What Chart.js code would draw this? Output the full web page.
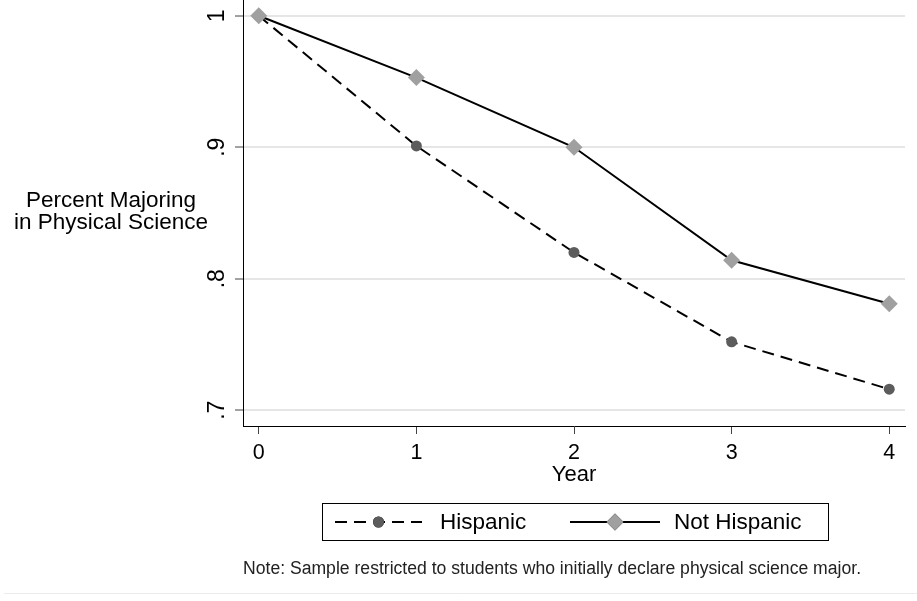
<!DOCTYPE html>
<html>
<head>
<meta charset="utf-8">
<script src="https://cdn.jsdelivr.net/npm/chart.js@4.4.0/dist/chart.umd.min.js"></script>
<style>
  html, body { margin: 0; padding: 0; background: #ffffff; }
  canvas { display: block; }
</style>
</head>
<body>
<canvas id="chart_major" width="917" height="601"></canvas>
<script>
/* ------------------
  data
-------------------*/
var years = [0, 1, 2, 3, 4];
var yearLabels = ['0', '1', '2', '3', '4'];
var hispanic = [1.0, 0.901, 0.820, 0.752, 0.716];
var notHispanic = [1.0, 0.953, 0.900, 0.814, 0.781];
var yTickValues = [0.7, 0.8, 0.9, 1.0];
var yTickLabels = ['.7', '.8', '.9', '1'];
var seriesNames = ['Hispanic', 'Not Hispanic'];
var yTitleLines = ['Percent Majoring', 'in Physical Science'];
var xTitle = 'Year';
var noteText = 'Note: Sample restricted to students who initially declare physical science major.';

var FONT = "'Liberation Sans', Arial, sans-serif";

function toPoints(ys) {
    return years.map(function (x, i) { return { x: x, y: ys[i] }; });
}

/* ------------------
  extra drawing: y title, legend box, note
-------------------*/
var stataExtras = {
    id: 'stataExtras',
    afterDraw: function (chart) {
        var ctx = chart.ctx;
        ctx.save();

        // y axis title, horizontal, two lines
        ctx.fillStyle = '#000';
        ctx.font = '22.5px ' + FONT;
        ctx.textAlign = 'center';
        ctx.textBaseline = 'alphabetic';
        ctx.fillText(yTitleLines[0], 111, 207);
        ctx.fillText(yTitleLines[1], 111, 229);

        // legend box
        var bx = 322, by = 503, bw = 506, bh = 37;
        ctx.strokeStyle = '#000';
        ctx.lineWidth = 1;
        ctx.strokeRect(bx + 0.5, by + 0.5, bw, bh);

        var cy = by + bh / 2 + 0.5;
        var items = [
            { x0: 335, x1: 422, tx: 440 },
            { x0: 570, x1: 660, tx: 674 }
        ];
        chart.data.datasets.forEach(function (ds, i) {
            var it = items[i];
            ctx.strokeStyle = ds.borderColor;
            ctx.lineWidth = ds.borderWidth;
            ctx.setLineDash(ds.borderDash || []);
            ctx.beginPath();
            ctx.moveTo(it.x0, cy);
            ctx.lineTo(it.x1, cy);
            ctx.stroke();
            ctx.setLineDash([]);
            Chart.helpers.drawPoint(ctx, {
                pointStyle: ds.pointStyle,
                radius: ds.pointRadius,
                borderWidth: 0,
                rotation: 0
            }, (it.x0 + it.x1) / 2, cy);
            ctx.fillStyle = ds.pointBackgroundColor;
            ctx.fill();
            ctx.fillStyle = '#000';
            ctx.font = '22.5px ' + FONT;
            ctx.textAlign = 'left';
            ctx.textBaseline = 'middle';
            ctx.fillText(ds.label, it.tx, cy + 1);
        });

        // note
        ctx.fillStyle = '#222';
        ctx.font = '17.6px ' + FONT;
        ctx.textAlign = 'left';
        ctx.textBaseline = 'alphabetic';
        ctx.fillText(noteText, chart.chartArea.left, 574);

        // faint frame line at the bottom
        ctx.strokeStyle = '#ebebeb';
        ctx.lineWidth = 1;
        ctx.beginPath();
        ctx.moveTo(4, 593.5);
        ctx.lineTo(917, 593.5);
        ctx.stroke();

        ctx.restore();
    }
};

/* ------------------
  line chart
-------------------*/
new Chart(document.getElementById('chart_major'), {
    type: 'line',
    data: {
        datasets: [
            {
                label: seriesNames[0],
                data: toPoints(hispanic),
                borderColor: '#000000',
                borderWidth: 2,
                borderDash: [12, 7],
                pointStyle: 'circle',
                pointRadius: 5.5,
                pointBorderWidth: 0,
                pointBackgroundColor: '#5c5c5c',
                fill: false,
                tension: 0,
                order: 1
            },
            {
                label: seriesNames[1],
                data: toPoints(notHispanic),
                borderColor: '#000000',
                borderWidth: 2,
                pointStyle: 'rectRot',
                pointRadius: 8.5,
                pointBorderWidth: 0,
                pointBackgroundColor: '#a0a0a0',
                fill: false,
                tension: 0,
                order: 0
            }
        ]
    },
    options: {
        responsive: false,
        animation: false,
        layout: {
            autoPadding: false,
            padding: { left: 0, right: 12, top: 0, bottom: 110 }
        },
        plugins: {
            legend: { display: false },
            tooltip: { enabled: false },
            title: { display: false }
        },
        scales: {
            x: {
                type: 'linear',
                min: -0.1,
                max: 4.1,
                afterBuildTicks: function (scale) {
                    scale.ticks = years.map(function (v) { return { value: v }; });
                },
                afterFit: function (scale) {
                    scale.height = 65;
                    scale.paddingLeft = 0;
                    scale.paddingRight = 0;
                },
                ticks: {
                    autoSkip: false,
                    maxRotation: 0,
                    padding: 6,
                    color: '#000',
                    font: { family: FONT, size: 21.5 },
                    callback: function (v) { return yearLabels[years.indexOf(v)]; }
                },
                grid: {
                    drawOnChartArea: false,
                    tickLength: 8,
                    tickColor: '#444',
                    tickWidth: 1
                },
                border: { color: '#000', width: 1 },
                title: {
                    display: true,
                    text: xTitle,
                    color: '#000',
                    font: { family: FONT, size: 22 },
                    padding: { top: 0, bottom: 3 }
                }
            },
            y: {
                min: 0.688,
                max: 1.012,
                afterBuildTicks: function (scale) {
                    scale.ticks = yTickValues.map(function (v) { return { value: v }; });
                },
                afterFit: function (scale) {
                    scale.width = 243;
                    scale.paddingTop = 0;
                    scale.paddingBottom = 0;
                },
                ticks: {
                    autoSkip: false,
                    minRotation: 90,
                    maxRotation: 90,
                    crossAlign: 'center',
                    padding: 8,
                    color: '#000',
                    font: { family: FONT, size: 23 },
                    callback: function (v) { return yTickLabels[yTickValues.indexOf(v)]; }
                },
                grid: {
                    color: '#e6e6e6',
                    lineWidth: 2,
                    tickLength: 8,
                    tickColor: '#444',
                    tickWidth: 1
                },
                border: { color: '#000', width: 1 }
            }
        }
    },
    plugins: [stataExtras]
});
</script>
</body>
</html>
